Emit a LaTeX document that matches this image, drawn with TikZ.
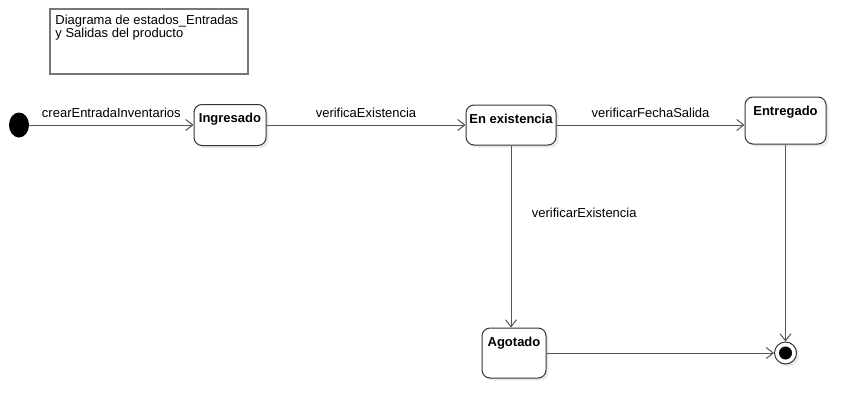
\documentclass[tikz,border=0pt]{standalone}
\usepackage{fontspec}
\setmainfont{Liberation Sans}
\usetikzlibrary{positioning,arrows.meta,shadows,shapes.geometric}

\definecolor{boxline}{HTML}{333333}
\definecolor{flowline}{HTML}{555555}
\definecolor{noteline}{HTML}{777777}

\begin{document}
\begin{tikzpicture}[x=1pt,y=-1pt,font=\fontsize{13}{12.5}\selectfont,
	statebox/.style={draw=boxline,fill=white,line width=1pt,rounded corners=8pt,drop shadow={shadow xshift=2.5pt,shadow yshift=-2.5pt,fill=black!12,opacity=0.7}},
	statelbl/.style={anchor=north,font=\fontsize{13}{13}\selectfont\bfseries,inner sep=5pt,yshift=-4pt},
	flow/.style={draw=flowline,line width=1pt,-{Straight Barb[length=7pt,width=11pt]}},
	flowlbl/.style={above,inner sep=7pt}]
	\useasboundingbox (0,0) rectangle (866,418);
	% note
	\node[draw=noteline,line width=1.5pt,minimum width=198pt,minimum height=65pt,inner sep=0pt] (n) at (149,41.5) {};
	\node[anchor=north west,align=left,inner sep=0pt] (nt) at ([xshift=6pt,yshift=-7pt]n.north west) {Diagrama de estados\_Entradas\\y Salidas del producto};
	% states
	\node[ellipse,fill=black,minimum width=20pt,minimum height=25pt,inner sep=0pt] (0) at (19,125) {};
	\node[statebox,minimum width=72pt,minimum height=41pt,label={[statelbl]north:Ingresado}] (1) at (230,125) {};
	\node[statebox,minimum width=90pt,minimum height=40pt,label={[statelbl]north:En existencia}] (2) at (511,125) {};
	\node[statebox,minimum width=81pt,minimum height=47pt,label={[statelbl]north:Entregado}] (3) at (785.5,120.5) {};
	\node[statebox,minimum width=64pt,minimum height=50pt,label={[statelbl]north:Agotado}] (4) at (514,353) {};
	% final state
	\node[circle,draw=boxline,fill=white,line width=1pt,minimum size=22pt,inner sep=0pt,drop shadow={shadow xshift=2.5pt,shadow yshift=-2.5pt,fill=black!12,opacity=0.7}] (5) at (785.5,353) {};
	\node[circle,fill=black,minimum size=13pt,inner sep=0pt] (5i) at (5) {};
	% transitions
	\draw[flow] (0) -- node[flowlbl] (t1) {crearEntradaInventarios} (1);
	\draw[flow] (1) -- node[flowlbl] (t2) {verificaExistencia} (2);
	\draw[flow] (2.east) -- node[flowlbl] (t3) {verificarFechaSalida} (2.east -| 3.west);
	\draw[flow] (2.south) -- node[pos=0.37,anchor=west,xshift=17pt] (t4) {verificarExistencia} (2.south |- 4.north);
	\draw[flow] (4) -- (5);
	\draw[flow] (3.south) -- (3.south |- 5.north);
\end{tikzpicture}
\end{document}
